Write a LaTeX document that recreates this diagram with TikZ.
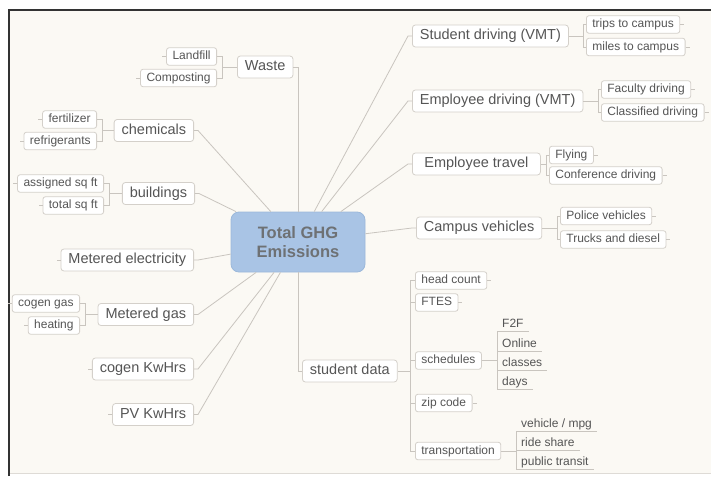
\documentclass[tikz,border=0pt]{standalone}
\usepackage{fontspec}
\setmainfont{Liberation Sans}
\definecolor{bg}{HTML}{FBF9F4}
\definecolor{lnc}{HTML}{C9C5BF}
\definecolor{bxd}{HTML}{D4D0CA}
\definecolor{txt}{HTML}{555555}
\definecolor{ctrf}{HTML}{A9C4E5}
\definecolor{ctrd}{HTML}{9BB8DA}
\definecolor{ctrt}{HTML}{6E7174}
\definecolor{frame}{HTML}{333333}
\definecolor{botl}{HTML}{DEDBD6}
\begin{document}
\begin{tikzpicture}[x=1pt,y=-1pt,
 mainbox/.style={draw=bxd, fill=white, rounded corners=3pt, line width=0.8pt, text=txt,
   font=\fontsize{14.5}{17}\selectfont, minimum height=22pt, inner xsep=7.5pt, inner ysep=0pt,
   text height=10.5pt, text depth=3pt},
 leafbox/.style={draw=bxd, fill=white, rounded corners=2.5pt, line width=0.8pt, text=txt,
   font=\fontsize{12}{14}\selectfont, minimum height=17.5pt, inner xsep=6pt, inner ysep=0pt,
   text height=8.8pt, text depth=2.6pt},
 ulbox/.style={text=txt, font=\fontsize{12}{14}\selectfont, inner xsep=5pt, inner ysep=1pt,
   text height=8.8pt, text depth=2.6pt},
 conn/.style={draw=lnc, line width=0.8pt},
 ctrbox/.style={draw=ctrd, fill=ctrf, rounded corners=8pt, line width=0.8pt, minimum width=134pt,
   minimum height=60pt, text=ctrt, font=\bfseries\fontsize{16.5}{19}\selectfont, align=center},
]
% background and frame
\fill[white] (0,0) rectangle (711,476);
\useasboundingbox (0,0) rectangle (711,476);
\fill[bg] (9,10) rectangle (711,473);
\draw[botl, line width=1pt] (9,473) -- (711,473);
\draw[frame, line width=1.8pt] (9,476) -- (9,10) -- (711,10);

% center
\node[ctrbox] (ctr) at (298,242) {Total GHG\\Emissions};

% left main
\node[mainbox, anchor=west] (waste) at (237,67) {Waste};
\node[mainbox, anchor=east] (chem) at (194,130.5) {chemicals};
\node[mainbox, anchor=east] (bldg) at (195,193.5) {buildings};
\node[mainbox, anchor=east] (melec) at (194,260) {Metered electricity};
\node[mainbox, anchor=east] (mgas) at (194,314.5) {Metered gas};
\node[mainbox, anchor=east] (cogkw) at (194,369) {cogen KwHrs};
\node[mainbox, anchor=east] (pvkw) at (194,414.5) {PV KwHrs};

% left leaves
\node[leafbox, anchor=east] (landfill) at (217,56.5) {Landfill};
\node[leafbox, anchor=east] (compost) at (217,78) {Composting};
\node[leafbox, anchor=east] (fert) at (97,119.5) {fertilizer};
\node[leafbox, anchor=east] (refrig) at (97,141) {refrigerants};
\node[leafbox, anchor=east] (asq) at (104,183.5) {assigned sq ft};
\node[leafbox, anchor=east] (tsq) at (104,205.5) {total sq ft};
\node[leafbox, anchor=east] (cgas) at (80,303.5) {cogen gas};
\node[leafbox, anchor=east] (heat) at (80,325.5) {heating};

% right main
\node[mainbox, anchor=west] (sdrv) at (412,36) {Student driving (VMT)};
\node[mainbox, anchor=west] (edrv) at (412,101) {Employee driving (VMT)};
\node[mainbox, anchor=west, minimum width=128pt] (etrv) at (412,164) {Employee travel};
\node[mainbox, anchor=west] (cveh) at (416,228) {Campus vehicles};
\node[mainbox, anchor=west] (sdata) at (302,371) {student data};

% right leaves
\node[leafbox, anchor=west] (trips) at (586,24.5) {trips to campus};
\node[leafbox, anchor=west] (miles) at (586,47) {miles to campus};
\node[leafbox, anchor=west] (fac) at (601,89.5) {Faculty driving};
\node[leafbox, anchor=west] (cls) at (601,112.5) {Classified driving};
\node[leafbox, anchor=west] (fly) at (549,155) {Flying};
\node[leafbox, anchor=west] (conf) at (549,175.5) {Conference driving};
\node[leafbox, anchor=west] (pol) at (560,216) {Police vehicles};
\node[leafbox, anchor=west] (trk) at (560,239.5) {Trucks and diesel};

% student data children
\node[leafbox, anchor=west] (hc) at (415,280.5) {head count};
\node[leafbox, anchor=west] (ftes) at (415,302.5) {FTES};
\node[leafbox, anchor=west] (sched) at (415,360.5) {schedules};
\node[leafbox, anchor=west] (zip) at (415,403) {zip code};
\node[leafbox, anchor=west] (trans) at (415,451) {transportation};

% underlined children
\node[ulbox, anchor=south west] (f2f) at (497,331) {F2F};
\node[ulbox, anchor=south west] (online) at (497,351) {Online};
\node[ulbox, anchor=south west] (classes) at (497,370) {classes};
\node[ulbox, anchor=south west] (days) at (497,389) {days};
\node[ulbox, anchor=south west] (veh) at (516,431) {vehicle / mpg};
\node[ulbox, anchor=south west] (ride) at (516,450) {ride share};
\node[ulbox, anchor=south west] (pub) at (516,469) {public transit};
\foreach \n in {f2f,online,classes,days,veh,ride,pub}
  \draw[conn] (\n.south west) -- (\n.south east);

% main connectors
\draw[conn] (waste.east) -| (ctr.north);
\draw[conn] (ctr.south) |- (sdata.west);
\foreach \n in {chem,bldg,melec,mgas,cogkw,pvkw}
  \draw[conn] (\n.east) -- ++(4,0) -- (ctr);
\foreach \n in {sdrv,edrv,etrv,cveh}
  \draw[conn] (\n.west) -- ++(-4,0) -- (ctr);

% brackets left
\foreach \c/\p in {landfill/waste,compost/waste,fert/chem,refrig/chem,asq/bldg,tsq/bldg,cgas/mgas,heat/mgas}
  \draw[conn] (\c.east) -- ++(5,0) |- (\p.west);
% brackets right
\foreach \c/\p in {trips/sdrv,miles/sdrv,fac/edrv,cls/edrv,fly/etrv,conf/etrv,pol/cveh,trk/cveh}
  \draw[conn] (\c.west) -- ++(-3,0) |- (\p.east);
\foreach \c in {hc,ftes,sched,zip,trans}
  \draw[conn] (\c.west) -- ++(-5,0) |- (sdata.east);
\foreach \c in {f2f,online,classes,days}
  \draw[conn] (\c.south west) |- (sched.east);
\foreach \c in {veh,ride,pub}
  \draw[conn] (\c.south west) |- (trans.east);

% stubs
\foreach \n in {landfill,compost,fert,refrig,asq,tsq,cgas,heat,melec,cogkw,pvkw}
  \draw[conn] (\n.west) -- ++(-4,0);
\foreach \n in {trips,miles,fac,cls,fly,conf,pol,trk,hc,ftes,zip}
  \draw[conn] (\n.east) -- ++(4,0);
\end{tikzpicture}
\end{document}
